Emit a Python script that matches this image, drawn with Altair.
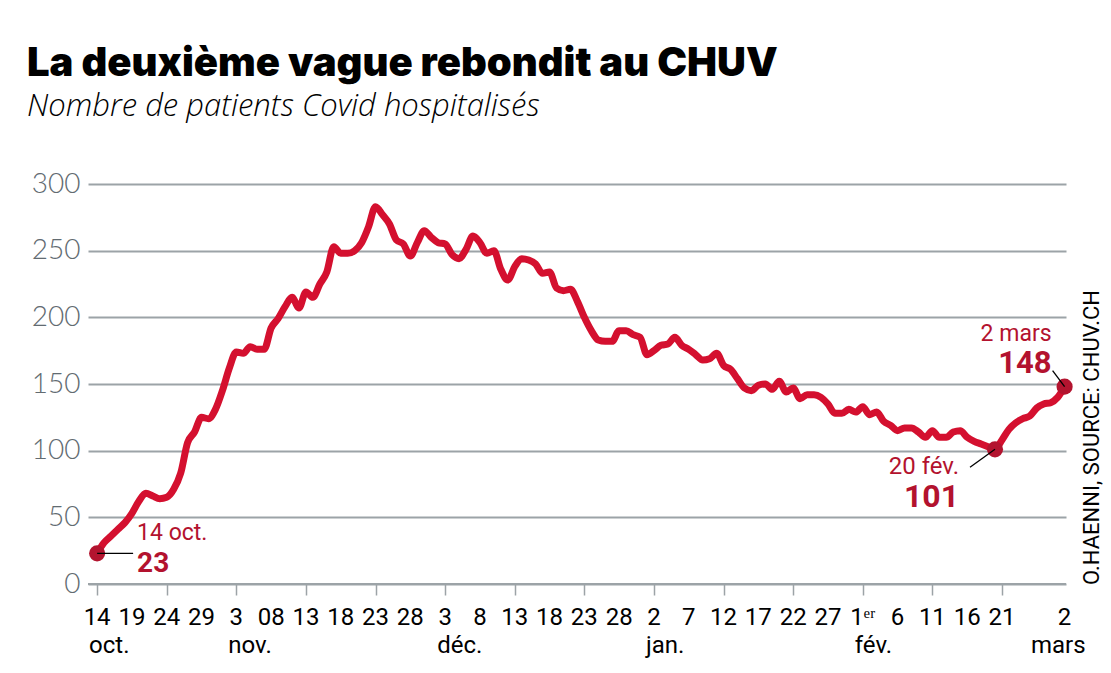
import altair as alt
import pandas as pd

# ---------------- data ----------------
start_date = "2020-10-14"
end_date = "2021-03-02"
patients = [
    23, 31, 36, 41, 46, 53, 62, 68, 66, 64,
    65, 71, 83, 106, 114, 125, 124, 131, 145, 162,
    174, 173, 178, 176, 176, 192, 199, 208, 215, 207,
    219, 215, 225, 234, 253, 248, 248, 250, 256, 268,
    283, 277, 270, 258, 255, 246, 256, 265, 260, 256,
    255, 247, 244, 251, 261, 256, 248, 250, 236, 228,
    238, 244, 243, 240, 233, 234, 222, 220, 221, 212,
    200, 190, 183, 182, 182, 190, 190, 187, 185, 172,
    175, 179, 180, 185, 179, 176, 172, 168, 169, 173,
    164, 161, 154, 147, 145, 149, 150, 146, 152, 144,
    147, 139, 142, 142, 140, 135, 128, 128, 131, 129,
    133, 127, 129, 122, 119, 115, 117, 117, 114, 110,
    115, 110, 110, 114, 115, 110, 107, 105, 103, 101,
    108, 116, 121, 124, 126, 132, 135, 136, 140, 148,
]

tick_dates = [
    "2020-10-14", "2020-10-19", "2020-10-24", "2020-10-29",
    "2020-11-03", "2020-11-08", "2020-11-13", "2020-11-18", "2020-11-23", "2020-11-28",
    "2020-12-03", "2020-12-08", "2020-12-13", "2020-12-18", "2020-12-23", "2020-12-28",
    "2021-01-02", "2021-01-07", "2021-01-12", "2021-01-17", "2021-01-22", "2021-01-27",
    "2021-02-01", "2021-02-06", "2021-02-11", "2021-02-16", "2021-02-21", "2021-03-02",
]
tick_labels = [
    "14", "19", "24", "29", "3", "08", "13", "18", "23", "28",
    "3", "8", "13", "18", "23", "28", "2", "7", "12", "17", "22", "27",
    "1ᵉʳ", "6", "11", "16", "21", "2",
]
month_dates = ["2020-10-14", "2020-11-03", "2020-12-03", "2021-01-02", "2021-02-01"]
month_labels = ["oct.", "nov.", "déc.", "jan.", "fév."]
last_month_date = ["2021-03-02"]
last_month_label = ["mars"]

y_ticks = [0, 50, 100, 150, 200, 250, 300]

ann_dates = ["2020-10-14", "2021-02-20", "2021-03-02"]
ann_values = [23, 101, 148]
ann_top = ["14 oct.", "20 fév.", "2 mars"]

TITLE = "La deuxième vague rebondit au CHUV"
SUBTITLE = "Nombre de patients Covid hospitalisés"
SOURCE = "O.HAENNI, SOURCE: CHUV.CH"

# ---------------- styling ----------------
LINE_RED = "#d4102f"
DOT_RED = "#b3142f"
TEXT_RED = "#b3122e"
GRID = "#9ca3a7"
NARROW = "Roboto"

W, H = 978, 400

dates = pd.date_range(start_date, end_date, freq="D").strftime("%Y-%m-%d")
df = pd.DataFrame({"date": dates, "patients": patients})


def ms(d):
    return int(pd.Timestamp(d, tz="UTC").value // 1_000_000)


day_ms = 86_400_000
x_domain = [ms(start_date) - int(1.31 * day_ms), ms(end_date) + int(0.2 * day_ms)]

x_scale = alt.Scale(type="utc", domain=x_domain)
y_scale = alt.Scale(domain=[0, 300], nice=False)

x_enc = alt.X(
    "date:T",
    scale=x_scale,
    axis=alt.Axis(
        values=[ms(d) for d in tick_dates],
        labels=False,
        grid=False,
        title=None,
        domain=False,
        ticks=True,
        tickSize=11,
        tickColor=GRID,
        tickWidth=1.5,
    ),
)
y_enc = alt.Y(
    "patients:Q",
    scale=y_scale,
    axis=alt.Axis(
        values=y_ticks,
        grid=True,
        gridColor=GRID,
        gridWidth=2,
        domain=False,
        ticks=False,
        title=None,
        labelFont="Lato",
        labelFontWeight=300,
        labelFontSize=28,
        labelColor="#626b71",
        labelPadding=8,
    ),
)

line = alt.Chart(df).mark_line(
    color=LINE_RED, strokeWidth=7, interpolate="monotone", strokeCap="round", strokeJoin="round"
).encode(x=x_enc, y=y_enc)

ann_df = pd.DataFrame({"date": ann_dates, "patients": ann_values, "top": ann_top,
                       "val": [str(v) for v in ann_values]})

dots = alt.Chart(ann_df).mark_circle(size=260, color=DOT_RED, opacity=1).encode(
    x="date:T", y="patients:Q"
)


def annotation(i, dx_top, dy_top, dy_val, align, top_size, val_size, rule_offsets):
    sub = ann_df.iloc[[i]]
    base = alt.Chart(sub)
    top = base.mark_text(
        align=align, baseline="alphabetic", dx=dx_top, dy=dy_top,
        font=NARROW, fontSize=top_size, color=TEXT_RED
    ).encode(x="date:T", y="patients:Q", text="top:N")
    val = base.mark_text(
        align=align, baseline="alphabetic", dx=dx_top, dy=dy_val,
        font=NARROW, fontSize=val_size, fontWeight="bold", color=TEXT_RED
    ).encode(x="date:T", y="patients:Q", text="val:N")
    x1, y1, x2, y2 = rule_offsets
    rule = base.mark_rule(
        color="black", strokeWidth=1.3, xOffset=x1, yOffset=y1, x2Offset=x2, y2Offset=y2
    ).encode(x="date:T", x2="date:T", y="patients:Q", y2="patients:Q")
    return [rule, top, val]


ann_layers = []
ann_layers += annotation(0, 40, -13, 19, "left", 23, 28, (0, 0, 36, 0))
ann_layers += annotation(1, -36, 25, 58, "right", 24, 32, (-25, 18, 0, 0))
ann_layers += annotation(2, -13, -46, -14, "right", 23, 31, (-12, -16, 0, 0))

base_axis = alt.Chart(pd.DataFrame({"v": [0]})).mark_rule(color=GRID, strokeWidth=2).encode(
    y=alt.Y("v:Q", scale=y_scale)
)

tick_df = pd.DataFrame({"date": tick_dates, "label": tick_labels})
day_labels = alt.Chart(tick_df).mark_text(
    align="center", baseline="alphabetic", font=NARROW, fontSize=24, color="black"
).encode(x="date:T", y=alt.value(H + 41), text="label:N")

month_df = pd.DataFrame({"date": month_dates, "label": month_labels})
month_text = alt.Chart(month_df).mark_text(
    align="left", baseline="alphabetic", dx=-8, font=NARROW, fontSize=24, color="black"
).encode(x="date:T", y=alt.value(H + 69), text="label:N")

last_df = pd.DataFrame({"date": last_month_date, "label": last_month_label})
last_text = alt.Chart(last_df).mark_text(
    align="right", baseline="alphabetic", dx=21, font=NARROW, fontSize=24, color="black"
).encode(x="date:T", y=alt.value(H + 69), text="label:N")

source_text = alt.Chart(pd.DataFrame({"t": [SOURCE]})).mark_text(
    align="left", baseline="alphabetic", angle=270, font=NARROW, fontSize=22, color="black"
).encode(x=alt.value(W + 33), y=alt.value(H + 1), text="t:N")

chart = alt.layer(
    line, base_axis, dots, *ann_layers, day_labels, month_text, last_text, source_text
).properties(
    width=W,
    height=H,
    padding={"left": 80, "top": 176, "right": 37, "bottom": 75},
    autosize=alt.AutoSizeParams(type="none"),
    title=alt.TitleParams(
        text=TITLE,
        subtitle=SUBTITLE,
        anchor="start",
        frame="group",
        dx=-61,
        offset=48,
        font="Inter",
        fontSize=40,
        fontWeight=900,
        color="black",
        subtitleFont="Open Sans",
        subtitleFontSize=31,
        subtitleFontStyle="italic",
        subtitleFontWeight=300,
        subtitleColor="black",
        subtitlePadding=8,
    ),
).configure_view(stroke=None)

chart.save("out.html", embed_options={"renderer": "svg", "actions": False})
